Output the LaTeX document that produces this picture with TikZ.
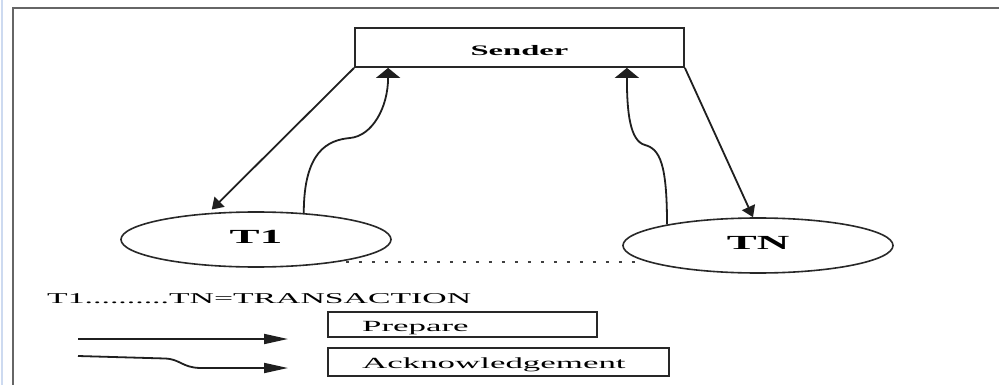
\documentclass[tikz,border=0pt]{standalone}
\usepackage{fontspec}
\setmainfont{Liberation Serif}
\usetikzlibrary{arrows.meta,shapes.geometric}
\definecolor{paleblue}{RGB}{205,218,240}
\definecolor{inkgray}{RGB}{40,40,40}
% wide lettering used throughout the figure
\newcommand\hwide[1]{\scalebox{2.25}[1]{#1}}
\begin{document}
\begin{tikzpicture}[x=1pt,y=-1pt,
  frameline/.style={line width=2pt, draw=black!60},
  senderbox/.style={rectangle, draw=inkgray, line width=1.8pt, inner sep=0pt,
    minimum width=329pt, minimum height=39pt,
    font=\fontsize{14.5}{17}\selectfont\bfseries, text height=16.6pt, text depth=0pt},
  txnode/.style={ellipse, draw=inkgray, line width=1.6pt, inner sep=0pt,
    minimum width=270pt, minimum height=55pt,
    font=\fontsize{20}{24}\selectfont\bfseries, text height=13.2pt, text depth=5pt},
  link/.style={line width=1.8pt, draw=black!88},
  slanthead/.style={-{Triangle[length=11pt,width=14pt]}},
  risehead/.style={-{Triangle[length=10pt,width=24pt]}},
  keyhead/.style={-{Triangle[length=24pt,width=10pt]}},
  dotline/.style={line width=2.2pt, draw=black!75, dash pattern=on 3.5pt off 9.5pt},
  legbox/.style={rectangle, draw=inkgray, line width=1.8pt, inner sep=0pt},
  legtext/.style={font=\fontsize{15.5}{18}\selectfont, inner sep=0pt},
  keytext/.style={font=\fontsize{15}{18}\selectfont, inner sep=0pt}
]
\useasboundingbox (0,0) rectangle (999,385);
\fill[white] (0,0) rectangle (999,385);

% page frame
\draw[line width=2pt, draw=paleblue] (1.5,0) -- (1.5,385);
\draw[frameline] (13,385) -- (13,8) -- (999,8);

% sender and the two transactions
\node[senderbox] (sender) at (519.5,47.5) {\hwide{Sender}};
\node[txnode] (t1) at (256,239.5) {\hwide{T1}};
\node[txnode] (tn) at (758,245.5) {\hwide{TN}};

% prepare messages
\draw[link, slanthead, shorten >=5pt] (sender.south west) -- (t1.151);
\draw[link, slanthead] (sender.south east) -- (tn.100);

% acknowledgements
\draw[link, risehead] (t1.29) .. controls +(0,-62) and +(-22,2) .. (350,138)
  .. controls +(22,-2) and +(0,40) .. ([xshift=34pt]sender.south west);
\draw[link, risehead] (tn.167) .. controls +(0,-60) and +(15,4) .. (645,145)
  .. controls +(-15,-4) and +(0,45) .. ([xshift=-58pt]sender.south east);

% the transactions in between
\draw[dotline, shorten <=10pt, shorten >=6pt] (t1.344) -- (t1.344 -| tn.189);

% key
\node[keytext, anchor=base west] (keyline) at (47,303) {\hwide{T1..........TN=TRANSACTION}};

\node[legbox, minimum width=269pt, minimum height=25pt] (prepbox) at (462.5,324.5) {};
\node[legtext, anchor=base west] (preptxt) at (362,331) {\hwide{Prepare}};
\node[legbox, minimum width=341pt, minimum height=28pt] (ackbox) at (498.5,362) {};
\node[legtext, anchor=base west] (acktxt) at (362,368) {\hwide{Acknowledgement}};

\coordinate (prepfrom) at (78,339);
\coordinate (prepto) at (288,339);
\draw[link, keyhead] (prepfrom) -- (prepto);

\coordinate (ackfrom) at (78,356);
\coordinate (ackto) at (288,368);
\draw[link, keyhead] (ackfrom) -- (165,358.5)
  .. controls (180,359) and (182,367.5) .. (200,368) -- (ackto);
\end{tikzpicture}
\end{document}
